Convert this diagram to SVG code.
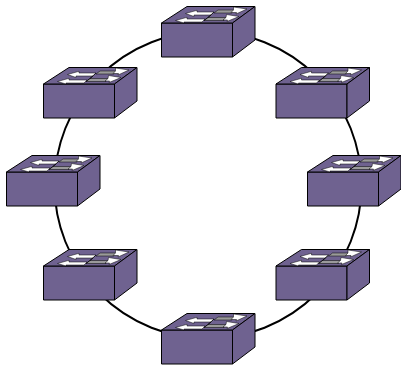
<svg xmlns="http://www.w3.org/2000/svg" width="401" height="367" viewBox="0 0 401 367">
<style>
.f{fill:#6f6290;stroke:#000;stroke-width:1;stroke-linejoin:round}
.w{fill:#fff;stroke:#000;stroke-width:.5}
.g{fill:#9a9a9a;stroke:#000;stroke-width:.5}
.l{fill:none;stroke:#000;stroke-width:.7}
#ring{fill:none;stroke:#000;stroke-width:2}
</style>
<defs>
<g id="sw">
<path class="f" d="M0.5 17H71.500V51H0.500Z"/>
<path class="f" d="M0.500 17L26 0.500H94L71.500 17Z"/>
<path class="f" d="M71.500 17L94 0.500V34L71.500 51Z"/>
<path class="g" d="M57 4H73L71 7H53Z"/>
<path class="g" d="M47 11.500H66L63 14.500H43Z"/>
<path class="w" d="M24.500 7.500L36 4.300V6H53L50 9H33V10.500Z"/>
<path class="w" d="M14.500 14.500L26 11.300V13H44L41 16H23V17Z"/>
<path class="w" d="M72.500 1L86 3L75 8L75.500 6.500H70L72.500 4Z"/>
<path class="w" d="M65.500 8.500L78 10.500L66 15.500L66.500 14H62L65 11.500Z"/>
<path class="l" d="M50 9L43 14.500M53 6L47 11.500"/>
</g>
</defs>
<g id="connectors"><circle id="ring" cx="208" cy="185" r="153.500"/></g>
<g id="switch-top"><use href="#sw" x="161" y="6"/></g>
<g id="switch-upper-left"><use href="#sw" x="43" y="67"/></g>
<g id="switch-upper-right"><use href="#sw" x="275.500" y="67"/></g>
<g id="switch-left"><use href="#sw" x="6" y="155"/></g>
<g id="switch-right"><use href="#sw" x="307" y="155"/></g>
<g id="switch-lower-left"><use href="#sw" x="43" y="249"/></g>
<g id="switch-lower-right"><use href="#sw" x="275.500" y="249"/></g>
<g id="switch-bottom"><use href="#sw" x="161" y="313"/></g>
</svg>
